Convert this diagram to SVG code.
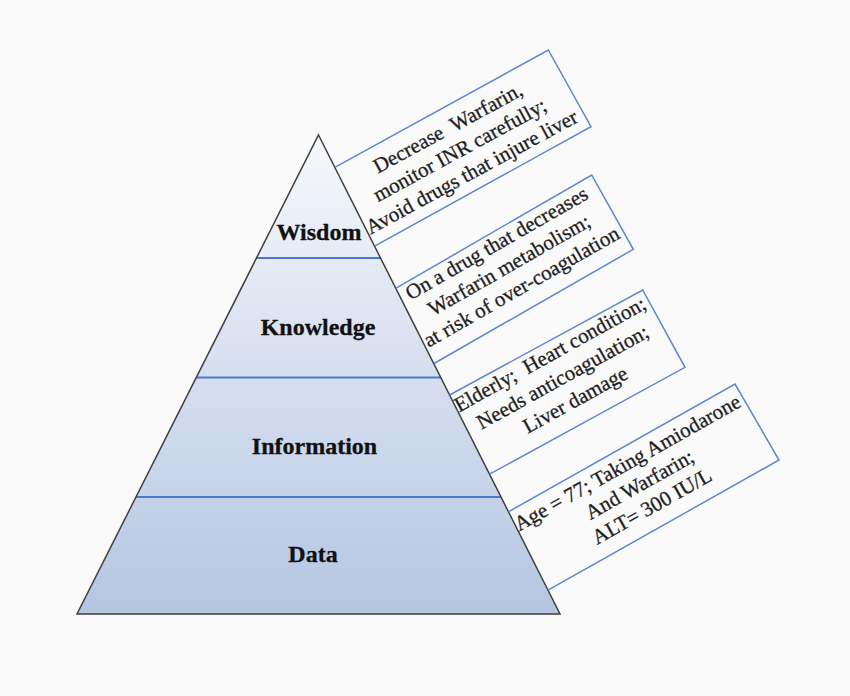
<svg xmlns="http://www.w3.org/2000/svg" width="850" height="696" viewBox="0 0 850 696">
<defs>
<linearGradient id="pg" gradientUnits="userSpaceOnUse" x1="0" y1="135" x2="0" y2="614">
<stop offset="0" stop-color="#f6f8fc"/>
<stop offset="1" stop-color="#b5c6e2"/>
</linearGradient>
<style>
.layer{fill:url(#pg);stroke:none}
.div{stroke:#4a78cc;stroke-width:2;fill:none}
.edge{stroke:#3f3f3f;stroke-width:1.5;fill:none;stroke-linejoin:miter}
.lbl{font-family:"Liberation Serif",serif;font-weight:bold;font-size:24px;fill:#111;stroke:#111;stroke-width:0.3;text-anchor:middle}
.box{fill:none;stroke:#5b86d6;stroke-width:1.5;stroke-linejoin:miter}
.bt{font-family:"Liberation Serif",serif;font-size:21px;fill:#1e1e1e;stroke:#1e1e1e;stroke-width:0.3;text-anchor:middle}
</style>
</defs>
<rect width="850" height="696" fill="#fafafa"/>
<g id="pyramid">
<g id="wisdom">
<polygon class="layer" points="318.5,135 380.5,258 256.5,258"/>
<text class="lbl" x="319" y="240">Wisdom</text>
</g>
<g id="knowledge">
<polygon class="layer" points="256.5,258 380.5,258 440.8,377.5 196.2,377.5"/>
<text class="lbl" x="318" y="335">Knowledge</text>
</g>
<g id="information">
<polygon class="layer" points="196.2,377.5 440.8,377.5 501,497 136,497"/>
<text class="lbl" x="314.5" y="454">Information</text>
</g>
<g id="data">
<polygon class="layer" points="136,497 501,497 560,614 77,614"/>
<text class="lbl" x="313" y="562">Data</text>
</g>
<line class="div" x1="256.5" y1="258" x2="380.5" y2="258"/>
<line class="div" x1="196.2" y1="377.5" x2="440.8" y2="377.5"/>
<line class="div" x1="136" y1="497" x2="501" y2="497"/>
<polygon class="edge" points="318.5,135 560,614 77,614"/>
</g>
<g id="box-wisdom">
<polyline class="box" points="334.8,167.3 548.3,50 591,126.7 374.6,246.1"/>
<g transform="translate(463,156) rotate(-28.5)">
<text class="bt" x="0" y="-25" xml:space="preserve">Decrease  Warfarin,</text>
<text class="bt" x="0" y="0">monitor INR carefully;</text>
<text class="bt" x="0" y="25">Avoid drugs that injure liver</text>
</g>
</g>
<g id="box-knowledge">
<polyline class="box" points="395.8,288.3 591.7,175 633.3,249.3 434,363.5"/>
<g transform="translate(512.5,271) rotate(-29.8)">
<text class="bt" x="0" y="-25">On a drug that decreases</text>
<text class="bt" x="0" y="0">Warfarin metabolism;</text>
<text class="bt" x="0" y="25">at risk of over-coagulation</text>
</g>
</g>
<g id="box-information">
<polyline class="box" points="449.6,395 642.7,290 685,367.3 489.5,474.2"/>
<g transform="translate(566,383) rotate(-29)">
<text class="bt" x="0" y="-26" xml:space="preserve">Elderly;  Heart condition;</text>
<text class="bt" x="0" y="0">Needs anticoagulation;</text>
<text class="bt" x="0" y="26">Liver damage</text>
</g>
</g>
<g id="box-data">
<polyline class="box" points="508.5,511.8 735,384 779,460 548,590.2"/>
<g transform="translate(643,490.5) rotate(-29.4)">
<text class="bt" x="0" y="-25">Age = 77; Taking Amiodarone</text>
<text class="bt" x="0" y="0">And Warfarin;</text>
<text class="bt" x="0" y="25">ALT= 300 IU/L</text>
</g>
</g>
</svg>
